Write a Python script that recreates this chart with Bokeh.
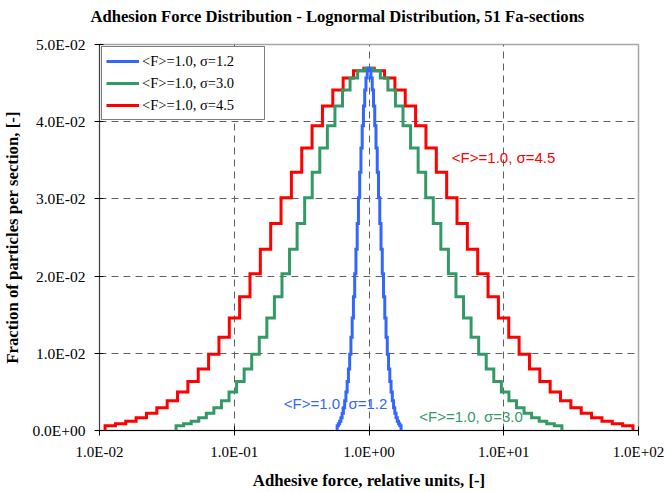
import numpy as np
from bokeh.plotting import figure
from bokeh.models import (FixedTicker, CustomJSTickFormatter, Legend, LegendItem,
                          Label, Range1d, Title)
from bokeh.embed import file_html
from bokeh.resources import INLINE

# Fraction of particles in each of the 51 Fa-sections (identical shape for all widths)
fraction = [
    0.00062, 0.00087, 0.00121, 0.00165, 0.00222, 0.00295, 0.00386, 0.00499,
    0.00635, 0.00798, 0.00989, 0.01209, 0.01457, 0.01733, 0.02032, 0.02349,
    0.02680, 0.03014, 0.03344, 0.03658, 0.03948, 0.04202, 0.04410, 0.04565,
    0.04661, 0.04693, 0.04661, 0.04565, 0.04410, 0.04202, 0.03948, 0.03658,
    0.03344, 0.03014, 0.02680, 0.02349, 0.02032, 0.01733, 0.01457, 0.01209,
    0.00989, 0.00798, 0.00635, 0.00499, 0.00386, 0.00295, 0.00222, 0.00165,
    0.00121, 0.00087, 0.00062,
]

# Three distributions: legend text, colour, and the adhesive force range covered
series_labels = ["<F>=1.0, σ=1.2", "<F>=1.0, σ=3.0", "<F>=1.0, σ=4.5"]
series_colors = ["#3366FF", "#339966", "#FF0000"]
force_min = [0.58, 0.037, 0.011]
force_max = [1.73, 27.0, 91.0]
n_sections = 51

x_ticks = [0.01, 0.1, 1.0, 10.0, 100.0]
y_ticks = [0.0, 0.01, 0.02, 0.03, 0.04, 0.05]

title_text = "Adhesion Force Distribution - Lognormal Distribution, 51 Fa-sections"

SERIF = "Liberation Serif"
SANS = "Liberation Sans"

p = figure(width=666, height=492, x_axis_type="log",
           x_range=Range1d(0.01, 100), y_range=Range1d(0, 0.05),
           output_backend="svg", toolbar_location=None,
           min_border_left=97, min_border_right=28,
           min_border_top=44, min_border_bottom=60)

p.title.text = title_text
p.title.align = "left"
p.title.offset = -9
p.title.standoff = 0
p.title.text_font = SERIF
p.title.text_font_size = "16.6px"
p.title.text_font_style = "bold"
p.title.text_color = "black"

# Blank band between the heading and the frame
p.add_layout(Title(text=" ", text_font_size="2px", standoff=15), "above")

p.background_fill_color = "white"
p.border_fill_color = "white"
p.outline_line_color = "#a6a6a6"
p.outline_line_width = 1.5

sci = CustomJSTickFormatter(code="""
    const s = tick.toExponential(1);
    const parts = s.split('e');
    const n = parseInt(parts[1]);
    return parts[0] + 'E' + (n < 0 ? '-' : '+') + String(Math.abs(n)).padStart(2, '0');
""")

p.xaxis.ticker = FixedTicker(ticks=x_ticks)
p.yaxis.ticker = FixedTicker(ticks=y_ticks)
for ax in (p.xaxis[0], p.yaxis[0]):
    ax.formatter = sci
    ax.major_tick_in = 4
    ax.major_tick_out = 5
    ax.major_tick_line_color = "black"
    ax.minor_tick_line_color = None
    ax.major_label_text_font = SERIF
    ax.major_label_text_color = "black"
    ax.axis_label_text_font = SERIF
    ax.axis_label_text_font_size = "16.8px"
    ax.axis_label_text_font_style = "bold"
    ax.axis_label_text_color = "black"

p.xaxis.major_label_text_font_size = "15px"
p.yaxis.major_label_text_font_size = "15.5px"
p.xaxis.axis_line_color = "black"
p.yaxis.axis_line_color = "#404040"
p.xaxis.axis_label = "Adhesive force, relative units, [-]"
p.yaxis.axis_label = "Fraction of particles per section, [-]"
p.xaxis.major_label_standoff = 8
p.xaxis.axis_label_standoff = 8
p.yaxis.major_label_standoff = 9
p.yaxis.axis_label_standoff = 7

for g in (p.xgrid[0], p.ygrid[0]):
    g.grid_line_color = "#606060"
    g.grid_line_dash = "7 5"
    g.grid_line_width = 1
p.xgrid.ticker = FixedTicker(ticks=x_ticks)
p.ygrid.ticker = FixedTicker(ticks=y_ticks)

# Step outline of each distribution: one flat segment per section,
# closed down to zero at both ends of the force range
renderers = {}
frac = np.asarray(fraction)
for i in (2, 1, 0):
    edges = np.geomspace(force_min[i], force_max[i], n_sections + 1)
    xs = np.repeat(edges, 2)
    ys = np.concatenate([[0.0], np.repeat(frac, 2), [0.0]])
    renderers[i] = p.line(xs, ys, line_color=series_colors[i], line_width=3,
                          line_join="miter")

legend = Legend(items=[LegendItem(label=series_labels[i], renderers=[renderers[i]])
                       for i in range(3)],
                location=(2, 310))
legend.label_text_font = SERIF
legend.label_text_font_size = "14.5px"
legend.label_text_color = "black"
legend.border_line_color = "black"
legend.border_line_width = 1
legend.background_fill_color = "white"
legend.background_fill_alpha = 1.0
legend.padding = 4
legend.spacing = 2
legend.margin = 0
legend.label_height = 20
legend.glyph_height = 20
legend.glyph_width = 33
legend.label_standoff = 3
legend.label_width = 118
p.add_layout(legend)

# In-plot labels next to each curve
label_x = [0.233, 2.36, 4.12]
label_y = [0.0035, 0.0018, 0.0353]
for i in range(3):
    p.add_layout(Label(x=label_x[i], y=label_y[i], text=series_labels[i],
                       text_color=series_colors[i], text_font=SANS,
                       text_font_size="15px", text_baseline="middle"))

open("out.html", "w").write(file_html(p, INLINE))
